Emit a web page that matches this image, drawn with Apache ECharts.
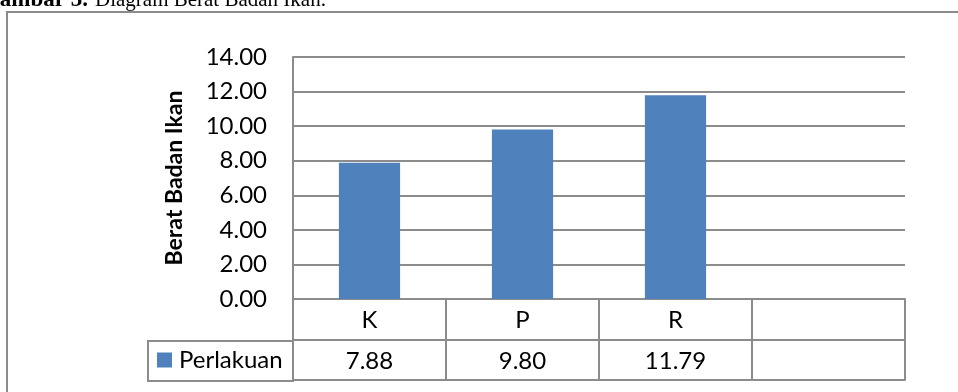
<!DOCTYPE html>
<html>
<head>
<meta charset="utf-8">
<script src="https://cdn.jsdelivr.net/npm/echarts@6/dist/echarts.min.js"></script>
<style>
  html, body { margin: 0; padding: 0; background: #fff; }
  #chart { width: 958px; height: 392px; }
</style>
</head>
<body>
<div id="chart"></div>
<script>
// Fish body weight per treatment
const categories = ['K', 'P', 'R', ''];
const weights = [7.88, 9.80, 11.79, null];
const seriesName = 'Perlakuan';
const yTicks = { min: 0, max: 14, step: 2 };

const lineColor = '#8c8c8c';
const barColor = '#4F81BD';
const font = 'Lato, "Open Sans", sans-serif';
const labelSize = 24;

const valueLabels = weights.map(v => (v == null ? '' : v.toFixed(2)));

const chart = echarts.init(document.getElementById('chart'), null, { renderer: 'canvas' });

const tableAxisBase = {
  type: 'category',
  position: 'bottom',
  gridIndex: 0,
  boundaryGap: true,
  axisLine: { show: true, lineStyle: { color: lineColor, width: 2 } },
  splitLine: { show: false }
};

chart.setOption({
  animation: false,
  backgroundColor: '#fff',
  grid: { left: 293, right: 53, top: 57, bottom: 93, containLabel: false },
  legend: {
    data: [seriesName],
    left: 157,
    top: 348,
    padding: 0,
    icon: 'rect',
    itemWidth: 15,
    itemHeight: 15,
    itemGap: 8,
    textStyle: { fontFamily: font, fontSize: labelSize, color: '#000', padding: [0, 0, 0, 2] }
  },
  xAxis: [
    Object.assign({}, tableAxisBase, {
      data: categories,
      axisTick: { show: true, length: 41, interval: 0, lineStyle: { color: lineColor, width: 2 } },
      axisLabel: { interval: 0, margin: 9, fontFamily: font, fontSize: labelSize, color: '#000' }
    }),
    Object.assign({}, tableAxisBase, {
      data: valueLabels,
      offset: 41,
      axisTick: { show: true, length: 40, interval: 0, lineStyle: { color: lineColor, width: 2 } },
      axisLabel: { interval: 0, margin: 9, fontFamily: font, fontSize: labelSize, color: '#000' }
    }),
    Object.assign({}, tableAxisBase, {
      data: categories,
      offset: 81,
      axisTick: { show: false },
      axisLabel: { show: false }
    })
  ],
  yAxis: {
    type: 'value',
    min: yTicks.min,
    max: yTicks.max,
    interval: yTicks.step,
    name: 'Berat Badan Ikan',
    nameLocation: 'middle',
    nameRotate: 90,
    nameGap: 107,
    nameTextStyle: { fontFamily: font, fontSize: 23, fontWeight: 'bold', color: '#000' },
    axisLine: { show: true, lineStyle: { color: lineColor, width: 2 } },
    axisTick: { show: false },
    axisLabel: {
      margin: 26,
      fontFamily: font,
      fontSize: labelSize,
      color: '#000',
      formatter: v => v.toFixed(2)
    },
    splitLine: { show: true, lineStyle: { color: lineColor, width: 2 } }
  },
  series: [{
    name: seriesName,
    type: 'bar',
    xAxisIndex: 0,
    data: weights,
    barWidth: '40%',
    itemStyle: { color: barColor }
  }],
  graphic: [
    // outer frame of the figure
    {
      type: 'rect', z: -1, silent: true,
      shape: { x: 7, y: 12, width: 1000, height: 500 },
      style: { fill: 'none', stroke: lineColor, lineWidth: 2 }
    },
    // legend cell of the data table
    {
      type: 'rect', silent: true,
      shape: { x: 148, y: 341, width: 145, height: 40 },
      style: { fill: 'none', stroke: lineColor, lineWidth: 2 }
    },
    // figure caption
    {
      type: 'text', silent: true, x: 88, y: 0,
      style: {
        text: 'Gambar 3.', align: 'right', verticalAlign: 'middle',
        font: 'bold 23px "Liberation Serif", "Times New Roman", serif', fill: '#000'
      }
    },
    {
      type: 'text', silent: true, x: 95, y: 0,
      style: {
        text: 'Diagram Berat Badan Ikan.', align: 'left', verticalAlign: 'middle',
        font: '21px "Liberation Serif", "Times New Roman", serif', fill: '#000'
      }
    }
  ]
});
</script>
</body>
</html>
